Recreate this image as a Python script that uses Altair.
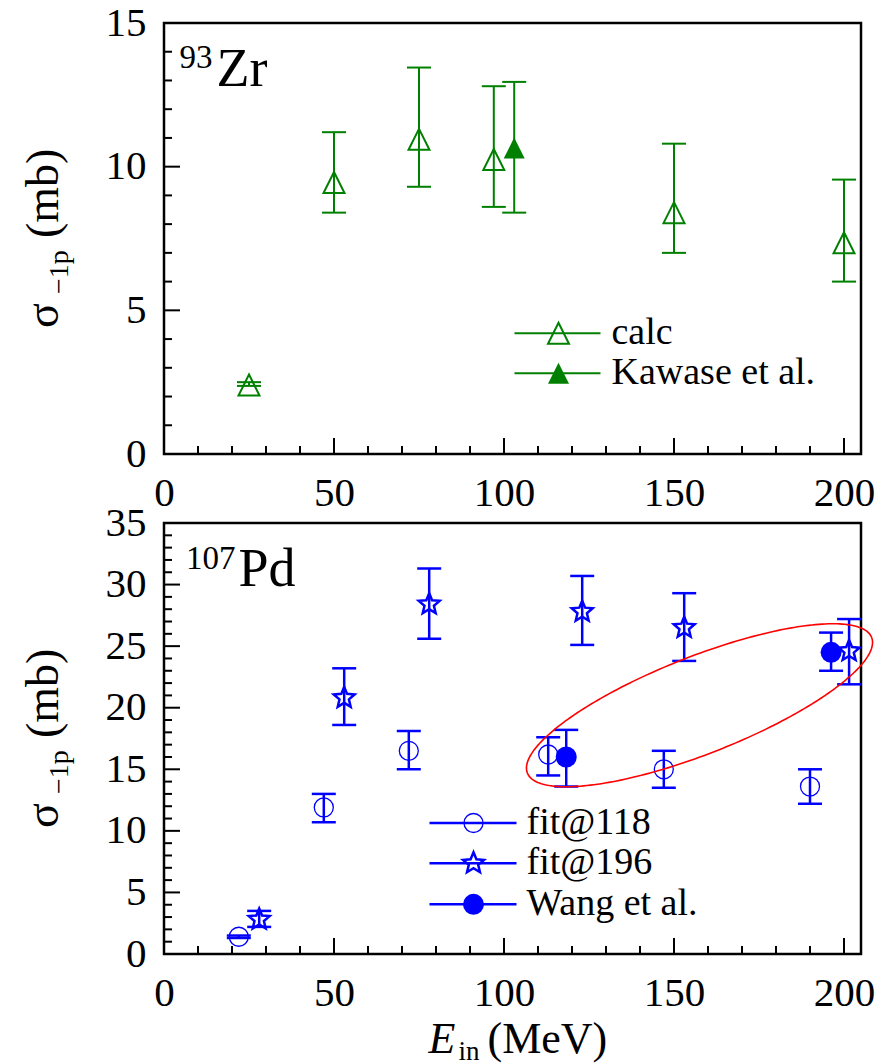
import altair as alt
import pandas as pd
import numpy as np

FONT = "'Liberation Serif', 'Times New Roman', 'DejaVu Serif', serif"
W, H = 697, 431
GREEN, BLUE, RED = "#008000", "#0000FF", "#FF0000"

# ---------------- data ----------------
# top panel: 93Zr
calc_x = [25, 50, 75, 97, 150, 200]
calc_y = [2.4, 9.45, 10.95, 10.25, 8.4, 7.35]
calc_lo = [2.37, 8.4, 9.3, 8.6, 7.0, 6.0]
calc_hi = [2.5, 11.2, 13.45, 12.8, 10.8, 9.55]

kaw_x = [103]
kaw_y = [10.65]
kaw_lo = [8.4]
kaw_hi = [12.95]

# bottom panel: 107Pd
f118_x = [22, 47, 72, 113, 147, 190]
f118_y = [1.4, 11.9, 16.5, 16.2, 15.0, 13.6]
f118_lo = [1.3, 10.7, 15.0, 14.5, 13.5, 12.2]
f118_hi = [1.5, 13.0, 18.1, 17.6, 16.5, 15.0]

f196_x = [28, 53, 78, 123, 153, 201.5]
f196_y = [2.8, 20.8, 28.4, 27.8, 26.5, 24.6]
f196_lo = [2.2, 18.6, 25.6, 25.1, 23.8, 21.9]
f196_hi = [3.5, 23.2, 31.3, 30.7, 29.3, 27.2]

wang_x = [118.3, 196.2]
wang_y = [16.0, 24.5]
wang_lo = [13.6, 23.0]
wang_hi = [18.2, 26.1]

# axes
X_DOMAIN = [0, 205]
X_LABELS = [0, 50, 100, 150, 200]
X_MINOR = [10, 20, 30, 40, 60, 70, 80, 90, 110, 120, 130, 140, 160, 170, 180, 190]
Y1_DOMAIN = [0, 15]
Y1_LABELS = [0, 5, 10, 15]
Y1_MINOR = [1, 2, 3, 4, 6, 7, 8, 9, 11, 12, 13, 14]
Y2_DOMAIN = [0, 35]
Y2_LABELS = [0, 5, 10, 15, 20, 25, 30, 35]
Y2_MINOR = [v for v in range(1, 35) if v % 5 != 0]

# ellipse annotation (center in data units, semi-axes in px, tilt in degrees)
ELL_C = (157.5, 20.2)
ELL_A, ELL_B, ELL_TILT = 185, 48.6, 21.5

# ---------------- marker shapes ----------------
TRI = "M0,-1L1,1L-1,1Z"
_ang = np.deg2rad(-90 + 36 * np.arange(10))
_rad = np.where(np.arange(10) % 2 == 0, 1.0, 0.45)
STAR = "M" + "L".join(f"{r*np.cos(a):.4f},{r*np.sin(a):.4f}" for r, a in zip(_rad, _ang)) + "Z"

# ---------------- helpers ----------------
x_scale = alt.Scale(domain=X_DOMAIN, nice=False, zero=False)
x_axis = alt.Axis(values=X_LABELS, ticks=False, domain=False, grid=False,
                  labelFont=FONT, labelFontSize=41, labelPadding=19,
                  labelFlush=False, labelOverlap=False, labelColor="black",
                  title=None)


def X(field):
    return alt.X(f"{field}:Q", scale=x_scale, axis=x_axis)


def make_Y(domain, labels):
    sc = alt.Scale(domain=domain, nice=False, zero=False)
    ax = alt.Axis(values=labels, ticks=False, domain=False, grid=False,
                  labelFont=FONT, labelFontSize=41, labelPadding=18,
                  labelFlush=False, labelOverlap=False, labelColor="black",
                  title=None)

    def Y(field):
        return alt.Y(f"{field}:Q", scale=sc, axis=ax)
    return Y


def tick_layers(Y, ymajor, yminor):
    layers = []
    for vals, ln in [(X_LABELS, 16), (X_MINOR, 8)]:
        d = pd.DataFrame({"v": vals})
        layers.append(alt.Chart(d).mark_rule(color="black", strokeWidth=2).encode(
            x=X("v"), y=alt.value(H), y2=alt.value(H - ln)))
    for vals, ln in [(ymajor, 16), (yminor, 8)]:
        d = pd.DataFrame({"v": vals})
        layers.append(alt.Chart(d).mark_rule(color="black", strokeWidth=2).encode(
            y=Y("v"), x=alt.value(0), x2=alt.value(ln)))
    return layers


def series(Y, xs, ys, lo, hi, color, shape, filled, size, sw, bw):
    d = pd.DataFrame({"x": xs, "y": ys, "lo": lo, "hi": hi})
    rule = alt.Chart(d).mark_rule(color=color, strokeWidth=bw).encode(
        x=X("x"), y=Y("lo"), y2=alt.Y2("hi"))
    cap1 = alt.Chart(d).mark_tick(orient="horizontal", size=24, thickness=bw,
                                  color=color, opacity=1).encode(x=X("x"), y=Y("lo"))
    cap2 = alt.Chart(d).mark_tick(orient="horizontal", size=24, thickness=bw,
                                  color=color, opacity=1).encode(x=X("x"), y=Y("hi"))
    pt = alt.Chart(d).mark_point(shape=shape, filled=filled, size=size, color=color,
                                 strokeWidth=sw, opacity=1).encode(x=X("x"), y=Y("y"))
    return [rule, cap1, cap2, pt]


def txt(s, x, y, size, **kw):
    return alt.Chart(pd.DataFrame({"t": [s]})).mark_text(
        font=FONT, fontSize=size, color="black", align="left", baseline="alphabetic",
        **kw).encode(text="t:N", x=alt.value(x), y=alt.value(y))


def legend_item(x0, x1, xm, xt, y, color, shape, filled, size, sw, lw, label):
    line = alt.Chart(pd.DataFrame({"a": [0]})).mark_rule(color=color, strokeWidth=lw).encode(
        x=alt.value(x0), x2=alt.value(x1), y=alt.value(y))
    pt = alt.Chart(pd.DataFrame({"a": [0]})).mark_point(
        shape=shape, filled=filled, size=size, color=color, strokeWidth=sw, opacity=1).encode(
        x=alt.value(xm), y=alt.value(y))
    t = alt.Chart(pd.DataFrame({"t": [label]})).mark_text(
        font=FONT, fontSize=38, color="black", align="left", baseline="middle").encode(
        text="t:N", x=alt.value(xt), y=alt.value(y))
    return [line, pt, t]


def ytitle():
    return [
        txt("σ", -106.5, 305, 46, angle=270),
        txt("−1p", -96.5, 271, 28, angle=270),
        txt("(mb)", -106.5, 215, 46, angle=270),
    ]


# ---------------- top panel ----------------
Y1 = make_Y(Y1_DOMAIN, Y1_LABELS)
top_layers = []
top_layers += series(Y1, calc_x, calc_y, calc_lo, calc_hi, GREEN, TRI, False, 440, 2, 2)
top_layers += series(Y1, kaw_x, kaw_y, kaw_lo, kaw_hi, GREEN, TRI, True, 440, 2, 2)
top_layers += tick_layers(Y1, Y1_LABELS, Y1_MINOR)
top_layers += [txt("93", 15.5, 45.3, 33), txt("Zr", 52.5, 63.3, 54)]
top_layers += legend_item(350.5, 436.5, 394.5, 447.5, 310.3, GREEN, TRI, False, 440, 2, 2, "calc")
top_layers += legend_item(350.5, 436.5, 394.5, 447.5, 350.3, GREEN, TRI, True, 440, 2, 2, "Kawase et al.")
top_layers += ytitle()
# invisible anchor fixing the chart origin relative to the plot frame
top_layers.append(alt.Chart(pd.DataFrame({"a": [0]})).mark_rule(
    strokeOpacity=0, strokeWidth=1).encode(
    x=alt.value(-162), x2=alt.value(0), y=alt.value(-21.2)))
top = alt.layer(*top_layers).properties(width=W, height=H)

# ---------------- bottom panel ----------------
Y2 = make_Y(Y2_DOMAIN, Y2_LABELS)
pxx = W / (X_DOMAIN[1] - X_DOMAIN[0])
pxy = H / (Y2_DOMAIN[1] - Y2_DOMAIN[0])
tt = np.linspace(0, 2 * np.pi, 241)
th = np.deg2rad(ELL_TILT)
ex = ELL_C[0] + (ELL_A * np.cos(tt) * np.cos(th) - ELL_B * np.sin(tt) * np.sin(th)) / pxx
ey = ELL_C[1] + (ELL_A * np.cos(tt) * np.sin(th) + ELL_B * np.sin(tt) * np.cos(th)) / pxy
ell = pd.DataFrame({"x": ex, "y": ey, "i": np.arange(len(tt))})

bot_layers = []
bot_layers += series(Y2, f118_x, f118_y, f118_lo, f118_hi, BLUE, "circle", False, 361, 1.3, 2.5)
bot_layers += series(Y2, f196_x, f196_y, f196_lo, f196_hi, BLUE, STAR, False, 484, 2.5, 2.5)
bot_layers += series(Y2, wang_x, wang_y, wang_lo, wang_hi, BLUE, "circle", True, 441, 1, 2.5)
bot_layers.append(alt.Chart(ell).mark_line(color=RED, strokeWidth=1.6).encode(
    x=X("x"), y=Y2("y"), order="i:Q"))
bot_layers += tick_layers(Y2, Y2_LABELS, Y2_MINOR)
bot_layers += [txt("107", 22, 46.3, 33), txt("Pd", 74.5, 63.3, 54)]
bot_layers += legend_item(265.5, 352.5, 309.5, 362.5, 300, BLUE, "circle", False, 361, 1.3, 2.5, "fit@118")
bot_layers += legend_item(265.5, 352.5, 309.5, 362.5, 340.3, BLUE, STAR, False, 484, 2.5, 2.5, "fit@196")
bot_layers += legend_item(265.5, 352.5, 309.5, 362.5, 381.3, BLUE, "circle", True, 441, 1, 2.5, "Wang et al.")
bot_layers += ytitle()
bot_layers += [txt("E", 264.5, 530, 44, fontStyle="italic"),
               txt("in", 294.5, 537, 27),
               txt("(MeV)", 323.5, 530, 44)]
bottom = alt.layer(*bot_layers).properties(width=W, height=H)

chart = alt.vconcat(top, bottom, spacing=69, bounds="flush").properties(
    padding=0, background="white"
).configure_view(stroke="black", strokeWidth=2.5)

chart.save("out.html", embed_options={"renderer": "svg", "actions": False})
